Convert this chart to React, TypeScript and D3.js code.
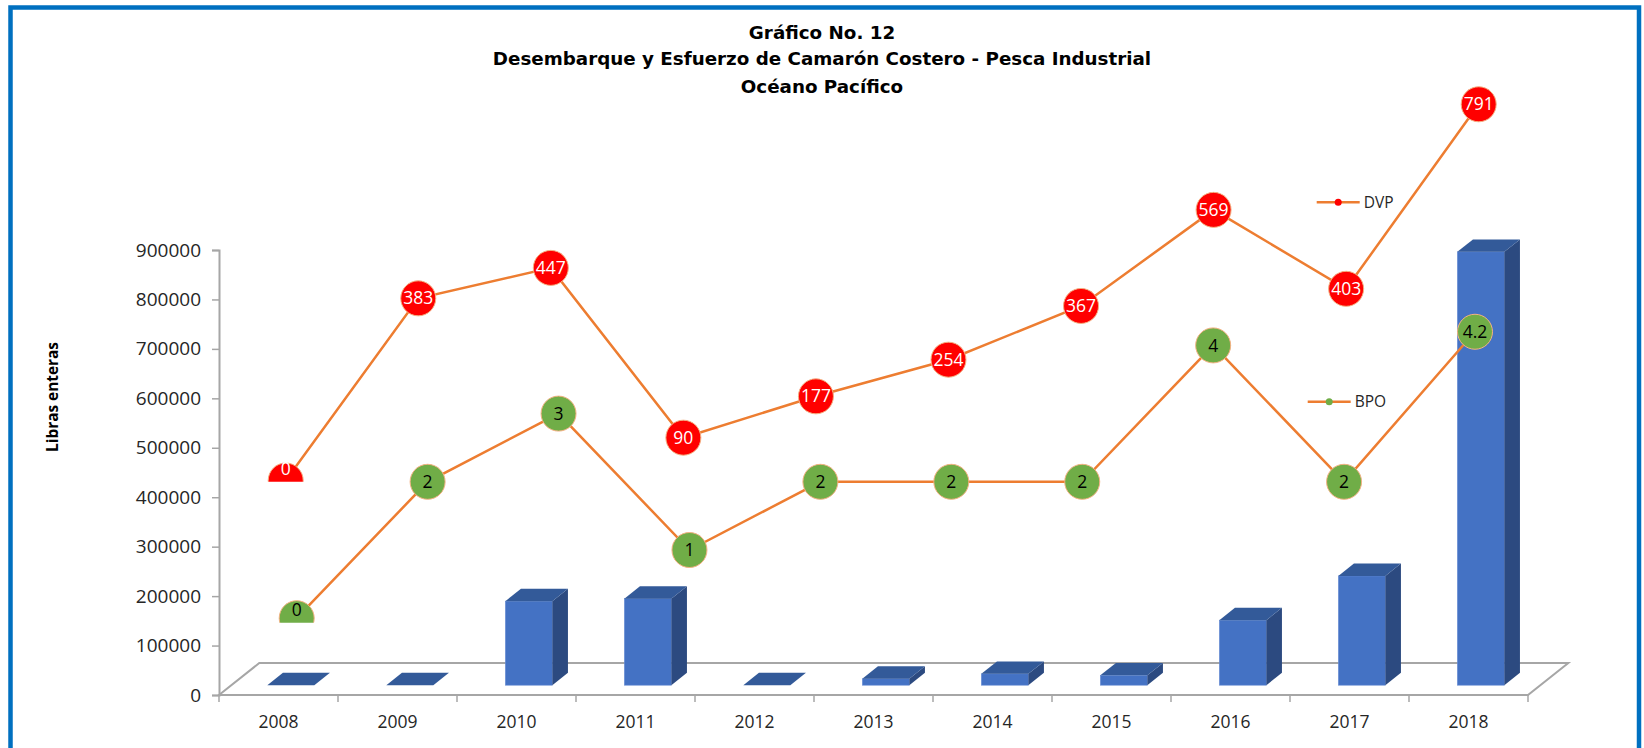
import { useEffect, useRef } from 'react';
import * as d3 from 'd3';

// bar series (libras enteras)
const years = ['2008', '2009', '2010', '2011', '2012', '2013', '2014', '2015', '2016', '2017', '2018'];
const libras = [0, 0, 170000, 175000, 0, 13000, 23000, 20000, 131500, 221000, 876500];
const yTicks = [0, 100000, 200000, 300000, 400000, 500000, 600000, 700000, 800000, 900000];

// line series (own hidden axes)
const lineYears = ['2009', '2010', '2011', '2012', '2013', '2014', '2015', '2016', '2017', '2018'];
const dvp = [0, 383, 447, 90, 177, 254, 367, 569, 403, 791];
const bpo = [0, 2, 3, 1, 2, 2, 2, 4, 2, 4.2];

const titleLines = ['Gráfico No. 12', 'Desembarque y Esfuerzo de Camarón Costero - Pesca Industrial', 'Océano Pacífico'];

const W = 1644;
const H = 748;
const FONT = "'Open Sans', sans-serif";

const App = () => {
  const ref = useRef<SVGSVGElement>(null);

  useEffect(() => {
    const svg = d3.select(ref.current);
    svg.selectAll('*').remove();

    // frame
    svg.append('rect')
      .attr('x', 10.5).attr('y', 7.5)
      .attr('width', 1628.5).attr('height', 800)
      .attr('fill', 'none').attr('stroke', '#0070C0').attr('stroke-width', 4.5);

    // title
    svg.append('g').selectAll('text').data(titleLines).enter().append('text')
      .attr('x', 822).attr('y', (d, i) => [39, 65, 92.5][i])
      .attr('text-anchor', 'middle')
      .style('font-family', "'DejaVu Sans', sans-serif")
      .style('font-weight', 'bold').style('font-size', '18.3px')
      .attr('fill', '#000').text(d => d);

    // 3d geometry
    const x0 = 219, x1 = 1528;
    const depthX = 40.3, depthY = -32;
    const xScale = d3.scaleBand().domain(years).range([x0, x1]);
    const yScale = d3.scaleLinear().domain([0, 900000]).range([695, 250]);
    const bw = xScale.bandwidth();
    const barW = 47;
    const bdx = 15.6, bdy = -12.4;
    const offX = (depthX - bdx) / 2;
    const offY = depthY * (offX / depthX);

    const axisColor = '#a6a6a6';

    // floor
    svg.append('path')
      .attr('d', `M${x0},695 L${x0 + depthX},${695 + depthY} L${x1 + depthX},${695 + depthY} L${x1},695 Z`)
      .attr('fill', 'none').attr('stroke', axisColor).attr('stroke-width', 2);

    // y axis
    const yAxis = svg.append('g').attr('transform', `translate(${x0},0)`)
      .call(d3.axisLeft(yScale).tickValues(yTicks).tickSize(7).tickPadding(11).tickFormat(d3.format('d')));
    yAxis.select('.domain').attr('stroke', axisColor).attr('stroke-width', 2);
    yAxis.selectAll('.tick line').attr('stroke', axisColor).attr('stroke-width', 1.5);
    yAxis.selectAll('.tick text').style('font-family', FONT).style('font-size', '19px').attr('fill', '#262626');

    // x ticks + labels
    const xg = svg.append('g');
    xg.selectAll('line').data(d3.range(years.length + 1)).enter().append('line')
      .attr('x1', i => x0 + i * bw).attr('x2', i => x0 + i * bw)
      .attr('y1', 695).attr('y2', 702)
      .attr('stroke', axisColor).attr('stroke-width', 1.5);
    xg.selectAll('text').data(years).enter().append('text')
      .attr('x', d => (xScale(d) as number) + bw / 2).attr('y', 728)
      .attr('text-anchor', 'middle')
      .style('font-family', FONT).style('font-size', '17.5px')
      .attr('fill', '#262626').text(d => d);

    // y axis title
    svg.append('text')
      .attr('transform', 'translate(58,397) rotate(-90)')
      .attr('text-anchor', 'middle')
      .style('font-family', FONT).style('font-weight', 'bold').style('font-size', '15.4px')
      .attr('fill', '#000').text('Libras enteras');

    // bars
    const bars = svg.append('g');
    years.forEach((yr, i) => {
      const v = libras[i];
      const fx = (xScale(yr) as number) + bw / 2 + offX - barW / 2;
      const base = 695 + offY;
      const top = yScale(v) + offY;
      if (v > 0) {
        bars.append('rect').attr('x', fx).attr('y', top).attr('width', barW).attr('height', base - top)
          .attr('fill', '#4472C4').attr('stroke', '#6a8fd4').attr('stroke-width', 0.6);
        bars.append('path')
          .attr('d', `M${fx + barW},${base} L${fx + barW + bdx},${base + bdy} L${fx + barW + bdx},${top + bdy} L${fx + barW},${top} Z`)
          .attr('fill', '#2C4A80');
      }
      bars.append('path')
        .attr('d', `M${fx},${top} L${fx + bdx},${top + bdy} L${fx + barW + bdx},${top + bdy} L${fx + barW},${top} Z`)
        .attr('fill', '#335A99');
    });

    // line series
    const defs = svg.append('defs');
    const drawSeries = (
      vals: number[], xr: [number, number], yDom: [number, number], yRan: [number, number],
      clipBottom: number, fill: string, labelColor: string, id: string
    ) => {
      const lx = d3.scalePoint().domain(lineYears).range(xr);
      const ly = d3.scaleLinear().domain(yDom).range(yRan);
      defs.append('clipPath').attr('id', id).append('rect')
        .attr('x', 0).attr('y', 0).attr('width', W).attr('height', clipBottom);
      const g = svg.append('g').attr('clip-path', `url(#${id})`);
      const line = d3.line<number>().x((d, i) => lx(lineYears[i]) as number).y(d => ly(d));
      g.append('path').datum(vals).attr('d', line)
        .attr('fill', 'none').attr('stroke', '#ED7D31').attr('stroke-width', 2.5);
      g.selectAll('circle').data(vals).enter().append('circle')
        .attr('cx', (d, i) => lx(lineYears[i]) as number).attr('cy', d => ly(d)).attr('r', 17.5)
        .attr('fill', fill).attr('stroke', '#F4B183').attr('stroke-width', 1);
      svg.append('g').selectAll('text').data(vals).enter().append('text')
        .attr('x', (d, i) => lx(lineYears[i]) as number)
        .attr('y', d => Math.min(ly(d), clipBottom - 13))
        .attr('dy', '0.35em').attr('text-anchor', 'middle')
        .style('font-family', FONT).style('font-size', '17.5px')
        .attr('fill', labelColor).text(d => d);
    };

    drawSeries(dvp, [285.7, 1478.7], [0, 800], [480.5, 100], 481.7, '#FF0000', '#ffffff', 'clipDvp');
    drawSeries(bpo, [296.7, 1475], [0, 5], [618.2, 277.2], 622.7, '#70AD47', '#000000', 'clipBpo');

    // legends
    const legend = [
      { name: 'DVP', x: 1316.7, y: 202.3, color: '#FF0000' },
      { name: 'BPO', x: 1307.7, y: 401.7, color: '#70AD47' },
    ];
    legend.forEach(l => {
      const lg = svg.append('g');
      lg.append('line').attr('x1', l.x).attr('x2', l.x + 43).attr('y1', l.y).attr('y2', l.y)
        .attr('stroke', '#ED7D31').attr('stroke-width', 2.5);
      lg.append('circle').attr('cx', l.x + 21.5).attr('cy', l.y).attr('r', 3.5).attr('fill', l.color);
      lg.append('text').attr('x', l.x + 47).attr('y', l.y).attr('dy', '0.35em')
        .style('font-family', FONT).style('font-size', '15.5px')
        .attr('fill', '#262626').text(l.name);
    });
  }, []);

  return (
    <div>
      <svg ref={ref} width={W} height={H} style={{ position: 'absolute', left: 0, top: 0, background: '#fff' }} />
    </div>
  );
};

export default App;
